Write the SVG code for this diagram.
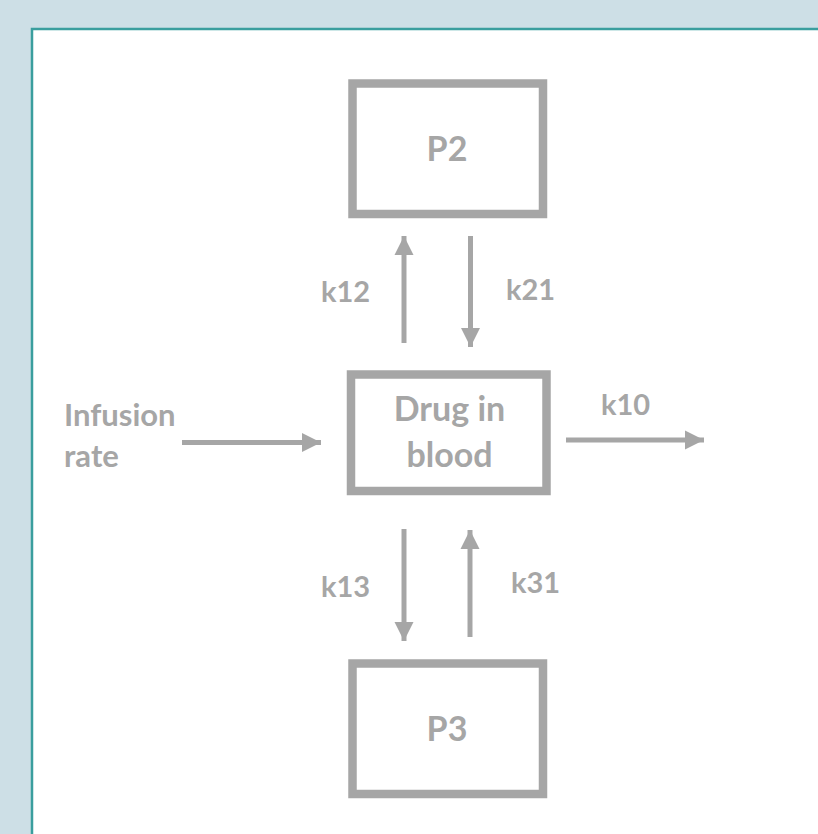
<svg xmlns="http://www.w3.org/2000/svg" width="818" height="834" viewBox="0 0 818 834">
<style>
.box{fill:none;stroke:#a6a6a6;stroke-width:8.5}
.t{font-family:Lato,"Liberation Sans",sans-serif;font-weight:700;font-size:29px;fill:#a6a6a6}
.b{font-size:34px;text-anchor:middle}
.i{font-size:31px}
.ar{stroke:#a6a6a6;stroke-width:5;fill:none}
</style>
<defs>
<marker id="ah" markerUnits="userSpaceOnUse" markerWidth="20" markerHeight="20" refX="19" refY="10" orient="auto">
<path d="M0,0.5 L19,10 L0,19.5 Z" fill="#a6a6a6"/>
</marker>
</defs>
<rect x="0" y="0" width="818" height="834" fill="#cddfe6"/>
<rect x="32" y="29" width="800" height="820" fill="#ffffff" stroke="#3a9e9e" stroke-width="2.5"/>
<g id="p2">
<rect class="box" x="352.5" y="83.5" width="190.5" height="130.5"/>
<text class="t b" x="447" y="161">P2</text>
</g>
<g id="blood">
<rect class="box" x="351" y="374.5" width="195.5" height="116.5"/>
<text class="t b" x="449.5" y="421">Drug in</text>
<text class="t b" x="449.5" y="467">blood</text>
</g>
<g id="p3">
<rect class="box" x="352.5" y="663.5" width="190.5" height="130.5"/>
<text class="t b" x="447" y="741">P3</text>
</g>
<g id="infusion">
<text class="t i" x="64" y="426">Infusion</text>
<text class="t i" x="64" y="467">rate</text>
</g>
<g id="connectors">
<line class="ar" x1="404" y1="343" x2="404" y2="236" marker-end="url(#ah)"/>
<line class="ar" x1="470.5" y1="236" x2="470.5" y2="347" marker-end="url(#ah)"/>
<line class="ar" x1="182" y1="442.5" x2="321" y2="442.5" marker-end="url(#ah)"/>
<line class="ar" x1="566" y1="440" x2="704" y2="440" marker-end="url(#ah)"/>
<line class="ar" x1="404" y1="529" x2="404" y2="641" marker-end="url(#ah)"/>
<line class="ar" x1="470" y1="637" x2="470" y2="530" marker-end="url(#ah)"/>
<text class="t" x="321" y="302">k12</text>
<text class="t" x="506" y="300">k21</text>
<text class="t" x="601" y="415">k10</text>
<text class="t" x="321" y="597">k13</text>
<text class="t" x="511" y="593">k31</text>
</g>
</svg>
